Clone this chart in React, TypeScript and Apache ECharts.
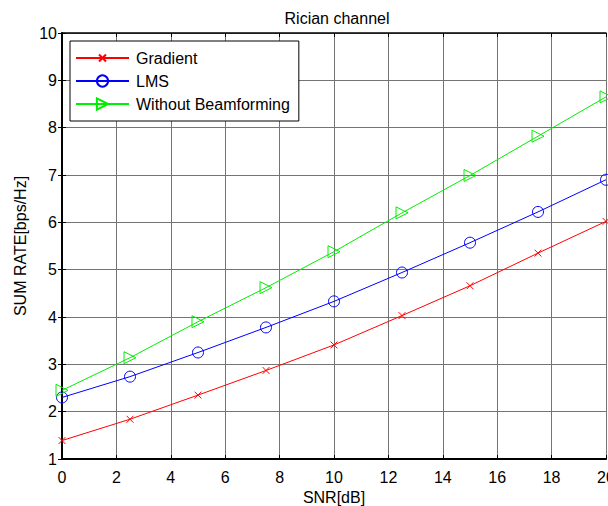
import React, { useEffect, useRef } from "react";
import * as echarts from "echarts";

const snr = [0, 2.5, 5, 7.5, 10, 12.5, 15, 17.5, 20];
const gradient = [1.39, 1.84, 2.35, 2.87, 3.41, 4.03, 4.66, 5.35, 6.02];
const lms = [2.3, 2.74, 3.25, 3.78, 4.33, 4.94, 5.57, 6.22, 6.9];
const withoutBf = [2.45, 3.14, 3.9, 4.62, 5.38, 6.2, 6.99, 7.82, 8.65];

const FONT = "Liberation Sans, Arial, sans-serif";
const FS = 16;

export default function App() {
  const ref = useRef<HTMLDivElement>(null);
  useEffect(() => {
    if (!ref.current) return;
    const chart = echarts.init(ref.current, undefined, { renderer: "svg" });
    const mk = (name: string, vals: number[], color: string, symbol: string, size: number) => ({
      name,
      type: "line",
      data: snr.map((x, i) => [x, vals[i]]),
      symbol,
      symbolSize: size,
      showAllSymbol: true,
      lineStyle: { color, width: 1 },
      itemStyle: { color: "rgba(255,255,255,0)", borderColor: color, borderWidth: 1 },
      emphasis: { disabled: true },
      clip: false,
      z: 3,
    });
    const xCommon = { type: "value", min: 0, max: 20, interval: 2 };
    const yCommon = { type: "value", min: 1, max: 10, interval: 1 };
    const tick = { show: true, inside: true, length: 4, lineStyle: { color: "#000" } };
    const grid = { show: true, lineStyle: { color: "#747474", width: 1 } };
    chart.setOption({
      animation: false,
      backgroundColor: "#fff",
      textStyle: { fontFamily: FONT },
      title: {
        text: "Rician channel",
        left: 332,
        textAlign: "center",
        top: 5,
        textStyle: { fontFamily: FONT, fontSize: FS, fontWeight: "normal", color: "#000" },
      },
      grid: { left: 62, right: 2, top: 33, bottom: 47, show: false, outerBoundsMode: "none", containLabel: false },
      legend: {
        orient: "vertical",
        left: 70,
        top: 41,
        padding: [9, 9, 9, 5],
        itemWidth: 53,
        itemHeight: 14,
        itemGap: 7,
        borderColor: "#000",
        borderWidth: 1,
        borderRadius: 0,
        backgroundColor: "#fff",
        textStyle: { fontFamily: FONT, fontSize: FS, color: "#000", lineHeight: 16, padding: [0, 0, 0, 2] },
        data: ["Gradient", "LMS", "Without Beamforming"],
      },
      xAxis: [
        {
          ...xCommon,
          position: "bottom",
          name: "SNR[dB]",
          nameLocation: "middle",
          nameGap: 30,
          nameTextStyle: { fontFamily: FONT, fontSize: FS, color: "#000" },
          axisLine: { show: true, lineStyle: { color: "#000", width: 2 } },
          axisTick: tick,
          axisLabel: { fontFamily: FONT, fontSize: FS, color: "#000", margin: 10 },
          splitLine: grid,
        },
        {
          ...xCommon,
          position: "top",
          axisLine: { show: true, lineStyle: { color: "#000", width: 1.5 } },
          axisTick: tick,
          axisLabel: { show: false },
          splitLine: { show: false },
        },
      ],
      yAxis: [
        {
          ...yCommon,
          position: "left",
          name: "SUM RATE[bps/Hz]",
          nameLocation: "middle",
          nameGap: 34,
          nameTextStyle: { fontFamily: FONT, fontSize: FS, color: "#000" },
          axisLine: { show: true, lineStyle: { color: "#000", width: 2 } },
          axisTick: tick,
          axisLabel: { fontFamily: FONT, fontSize: FS, color: "#000", margin: 5 },
          splitLine: grid,
        },
        {
          ...yCommon,
          position: "right",
          axisLine: { show: true, lineStyle: { color: "#000", width: 1.5 } },
          axisTick: tick,
          axisLabel: { show: false },
          splitLine: { show: false },
        },
      ],
      series: [
        mk("Gradient", gradient, "#ff0000", "path://M-3,-3M0,0L10,10M10,0L0,10M13,13", 11),
        mk("LMS", lms, "#0000ff", "circle", 11),
        mk("Without Beamforming", withoutBf, "#00ee00", "path://M0,0L10,5L0,10Z", 12),
      ],
    });
    return () => chart.dispose();
  }, []);
  return <div ref={ref} style={{ width: 608, height: 506, position: "absolute", left: 0, top: 0 }} />;
}
